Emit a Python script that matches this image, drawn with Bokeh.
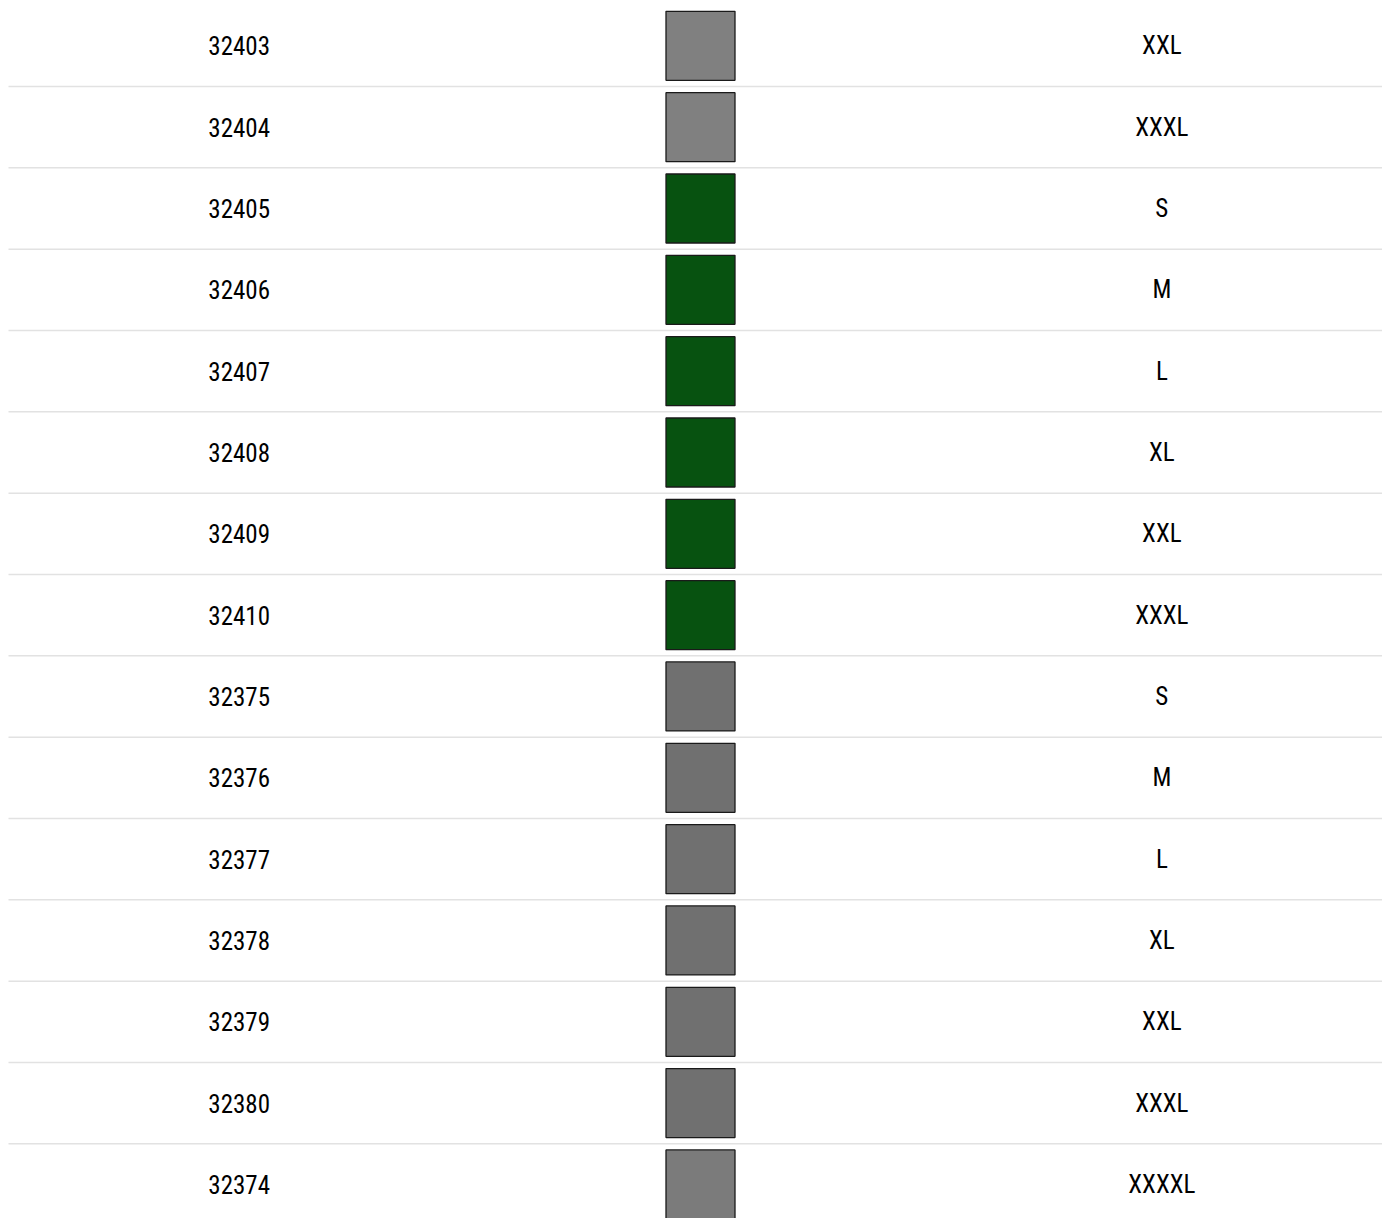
from bokeh.plotting import figure
from bokeh.models import Range1d, ColumnDataSource
from bokeh.core.properties import value
from bokeh.embed import file_html
from bokeh.resources import INLINE

# ---- data ----
article_ids = ["32403", "32404", "32405", "32406", "32407", "32408", "32409", "32410",
               "32375", "32376", "32377", "32378", "32379", "32380", "32374"]
swatch_colors = ["#808080", "#808080", "#075210", "#075210", "#075210", "#075210", "#075210", "#075210",
                 "#707070", "#707070", "#707070", "#707070", "#707070", "#707070", "#7b7b7b"]
sizes = ["XXL", "XXXL", "S", "M", "L", "XL", "XXL", "XXXL",
         "S", "M", "L", "XL", "XXL", "XXXL", "XXXXL"]

rows = list(range(len(article_ids)))
col_id, col_swatch, col_size = 0.5, 1.5, 2.5

src = ColumnDataSource(dict(
    row=rows,
    aid=article_ids,
    color=swatch_colors,
    size=sizes,
    x_id=[col_id] * len(rows),
    x_sw=[col_swatch] * len(rows),
    x_sz=[col_size] * len(rows),
))

W, H = 1382, 1218
col_px = 461.33
row_px = 81.33
first_center = 45.33
left_edge = 8.0  # column 0 starts here

p = figure(width=W, height=H, output_backend="svg", toolbar_location=None,
           x_range=Range1d(-left_edge / col_px, (W - left_edge) / col_px),
           y_range=Range1d((H - first_center) / row_px, -first_center / row_px),
           min_border=0)
p.axis.visible = False
p.grid.visible = False
p.outline_line_color = None
p.background_fill_color = "white"
p.border_fill_color = "white"

# row separators
p.segment(x0=[0] * (len(rows) - 1), x1=[10] * (len(rows) - 1),
          y0=[r + 0.5 for r in rows[:-1]], y1=[r + 0.5 for r in rows[:-1]],
          line_color="#e2e2e2", line_width=1.5)

font = value("Roboto Condensed")
p.text(x="x_id", y="row", text="aid", source=src, text_font=font,
       text_font_size="25px", text_align="center", text_baseline="middle", text_color="#000000")
p.text(x="x_sz", y="row", text="size", source=src, text_font=font,
       text_font_size="25px", text_align="center", text_baseline="middle", text_color="#000000")

p.rect(x="x_sw", y="row", width=69, height=69, width_units="screen", height_units="screen",
       source=src, fill_color="color", line_color="#1a1a1a", line_width=1.3)

open("out.html", "w").write(file_html(p, INLINE))
